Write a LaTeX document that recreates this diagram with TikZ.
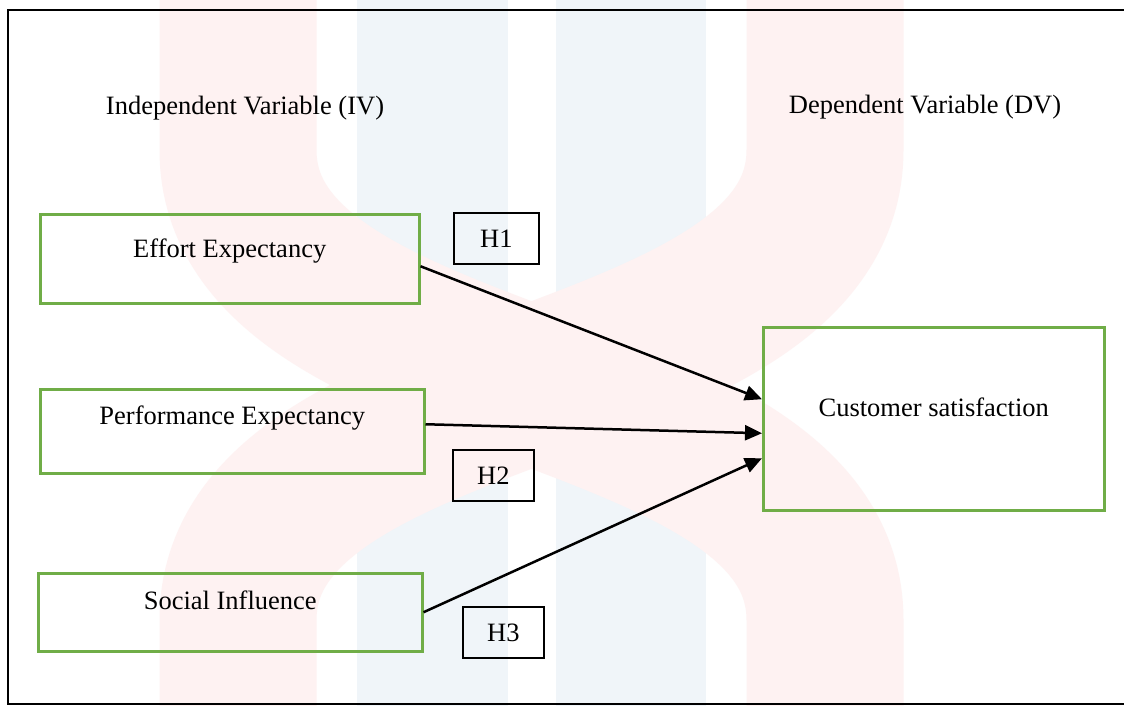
\documentclass[tikz,border=0pt]{standalone}
\usepackage{fontspec}
\setmainfont{Liberation Serif}
\usetikzlibrary{arrows.meta}
\definecolor{wmpink}{RGB}{254,242,242}
\definecolor{wmblue}{RGB}{240,245,249}
\definecolor{boxgreen}{RGB}{112,173,71}
\begin{document}
\begin{tikzpicture}[x=1pt,y=-1pt,
  txt/.style={font=\fontsize{26.5}{30}\selectfont},
  lbl/.style={txt, inner sep=0pt, text height=18pt, text depth=0pt},
  varbox/.style={txt, draw=boxgreen, line width=2.5pt, inner sep=0pt, anchor=north west, text height=18pt},
  hbox/.style={txt, draw=black, line width=1.8pt, inner sep=0pt, anchor=north west, text height=18pt, text depth=0pt},
  arr/.style={line width=2.5pt, -{Triangle[length=17pt,width=15pt]}},
  band/.style={draw=wmpink, line width=157pt}]
\useasboundingbox (0,0) rectangle (1124,706);
\fill[white] (0,0) rectangle (1124,706);
% watermark
\begin{scope}
\clip (0,0) rectangle (1124,706);
\fill[wmblue] (357,0) rectangle (508,706);
\fill[wmblue] (556,0) rectangle (706,706);
\draw[band] (238,-20) -- (238,150) .. controls (238,400) and (825,370) .. (825,620) -- (825,730);
\draw[band] (825,-20) -- (825,150) .. controls (825,400) and (238,370) .. (238,620) -- (238,730);
\end{scope}
% frame
\draw[line width=2.5pt] (1124,10) -- (8,10) -- (8,704) -- (1124,704);
% headings
\node[lbl] (iv) at (245,106) {Independent Variable (IV)};
\node[lbl] (dv) at (925,105) {Dependent Variable (DV)};
% variable boxes
\node[varbox, minimum width=379pt, minimum height=89pt, text depth=21pt] (effort) at (39,213) {Effort Expectancy};
\node[varbox, minimum width=384pt, minimum height=84pt, text depth=31pt] (perf) at (39,388) {Performance Expectancy};
\node[varbox, minimum width=384pt, minimum height=78pt, text depth=23.4pt] (social) at (37,572) {Social Influence};
\node[varbox, minimum width=341pt, minimum height=183pt, text depth=23.4pt] (cs) at (762,326) {Customer satisfaction};
% hypothesis boxes
\node[hbox, minimum width=85pt, minimum height=51pt] (h1) at (453,212) {H1};
\node[hbox, minimum width=81pt, minimum height=51pt] (h2) at (452,449) {H2};
\node[hbox, minimum width=81pt, minimum height=51pt] (h3) at (462,606) {H3};
% arrows
\draw[arr] ([yshift=-7.5pt]effort.east) -- ([yshift=19.5pt]cs.west);
\draw[arr] ([yshift=7pt]perf.east) -- ([yshift=-14.5pt]cs.west);
\draw[arr] (social.east) -- ([yshift=-39.5pt]cs.west);
\end{tikzpicture}
\end{document}
